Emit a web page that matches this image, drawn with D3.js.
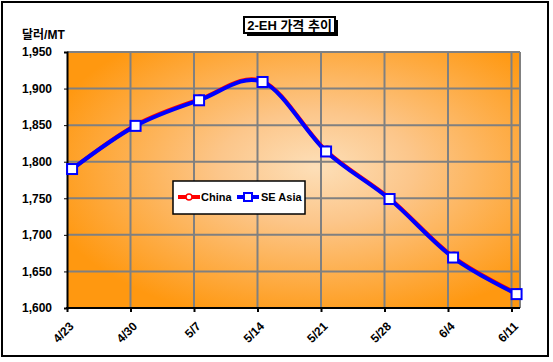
<!DOCTYPE html>
<meta charset="utf-8">
<head>
<style>
body { margin: 0; background: #fff; }
text { font-family: "Liberation Sans", Arial, sans-serif; font-weight: bold; }
.kr { font-family: "Liberation Sans", "Noto Sans CJK KR", sans-serif; }
</style>
</head>
<body>
<svg width="553" height="362"></svg>
<script src="https://cdn.jsdelivr.net/npm/d3@7/dist/d3.min.js"></script>
<script>

var dates = ["4/23", "4/30", "5/7", "5/14", "5/21", "5/28", "6/4", "6/11"];
var china = [1790, 1850, 1885, 1910, 1815, 1750, 1670, 1620];
var seAsia = [1790, 1849, 1884, 1909, 1814, 1749, 1669, 1619];
var yTicks = [1600, 1650, 1700, 1750, 1800, 1850, 1900, 1950];

var svg = d3.select("svg"),
    width = +svg.attr("width"),
    height = +svg.attr("height");

var pLeft = 67, pRight = 520, pTop = 52, pBottom = 308;

// outer frame
svg.append("rect")
  .attr("x", 2).attr("y", 2)
  .attr("width", 546).attr("height", 354)
  .attr("fill", "#fff").attr("stroke", "#000").attr("stroke-width", 2);

var defs = svg.append("defs");
var grad = defs.append("radialGradient")
  .attr("id", "bg")
  .attr("cx", 0.55).attr("cy", 0.45).attr("r", 0.62);
grad.append("stop").attr("offset", "0%").attr("stop-color", "#fddfb8");
grad.append("stop").attr("offset", "35%").attr("stop-color", "#fcc68a");
grad.append("stop").attr("offset", "100%").attr("stop-color", "#ff9810");

var x = d3.scaleLinear().domain([0, 7]).range([pLeft, 511.5]);
var y = d3.scaleLinear().domain([1600, 1950]).range([pBottom, pTop]);
var offset = 0.08; // points sit a bit right of the ticks

svg.append("rect")
  .attr("x", pLeft).attr("y", pTop)
  .attr("width", pRight - pLeft).attr("height", pBottom - pTop)
  .attr("fill", "url(#bg)");

// grid
var grid = svg.append("g").attr("stroke", "#808080").attr("stroke-width", 2);
grid.selectAll(".h").data(yTicks.slice(1))
  .enter().append("line")
  .attr("x1", pLeft).attr("x2", pRight)
  .attr("y1", function(d) { return y(d); })
  .attr("y2", function(d) { return y(d); });
grid.selectAll(".v").data(d3.range(1, 8))
  .enter().append("line")
  .attr("x1", function(d) { return x(d); })
  .attr("x2", function(d) { return x(d); })
  .attr("y1", pTop).attr("y2", pBottom);
grid.append("line").attr("x1", pRight).attr("x2", pRight).attr("y1", pTop).attr("y2", pBottom);

// axes
var yAxis = svg.append("g")
  .attr("transform", "translate(" + pLeft + ",0)")
  .call(d3.axisLeft(y).tickValues(yTicks).tickSize(3).tickPadding(12)
    .tickFormat(d3.format(",")));
yAxis.select(".domain").attr("stroke", "#000").attr("stroke-width", 2);
yAxis.selectAll("text").attr("font-size", 12).attr("fill", "#000");

var xAxis = svg.append("g")
  .attr("transform", "translate(0," + pBottom + ")")
  .call(d3.axisBottom(x).tickValues(d3.range(8)).tickSize(4)
    .tickFormat(function(d) { return dates[d]; }));
xAxis.select(".domain").attr("d", "M" + (pLeft - 1) + ",0H" + pRight).attr("stroke", "#000").attr("stroke-width", 2);
xAxis.selectAll(".tick line").attr("stroke", "#000").attr("stroke-width", 2);
xAxis.selectAll("text")
  .attr("font-size", 12).attr("fill", "#000")
  .attr("text-anchor", "end")
  .attr("dy", null).attr("y", 0)
  .attr("transform", "translate(7,19) rotate(-45)");

svg.append("text").attr("class", "kr")
  .attr("x", 22).attr("y", 39)
  .attr("font-size", 12)
  .text("달러/MT");

// title
svg.append("rect").attr("x", 247).attr("y", 20).attr("width", 91).attr("height", 16).attr("fill", "#000");
svg.append("rect").attr("x", 244).attr("y", 17).attr("width", 91).attr("height", 16)
  .attr("fill", "#fff").attr("stroke", "#000").attr("stroke-width", 2);
svg.append("text").attr("class", "kr")
  .attr("x", 289.5).attr("y", 30).attr("text-anchor", "middle")
  .attr("font-size", 13)
  .text("2-EH 가격 추이");

// series
var line = d3.line()
  .x(function(d, i) { return x(i + offset); })
  .y(function(d) { return y(d); })
  .curve(d3.curveCatmullRom.alpha(0));

svg.append("path").datum(china)
  .attr("d", line).attr("fill", "none").attr("stroke", "#ff0000").attr("stroke-width", 4);
svg.selectAll(".cm").data(china).enter().append("circle")
  .attr("cx", function(d, i) { return x(i + offset) + 1; })
  .attr("cy", function(d) { return y(d) - 1; })
  .attr("r", 3.5).attr("fill", "#fff").attr("stroke", "#ff0000").attr("stroke-width", 1.5);

svg.append("path").datum(seAsia)
  .attr("d", line).attr("fill", "none").attr("stroke", "#0000ff").attr("stroke-width", 4);
svg.selectAll(".sm").data(seAsia).enter().append("rect")
  .attr("x", function(d, i) { return x(i + offset) - 5; })
  .attr("y", function(d) { return y(d) - 5; })
  .attr("width", 10).attr("height", 10)
  .attr("fill", "#fff").attr("stroke", "#0000ff").attr("stroke-width", 2);

// legend
var lg = svg.append("g").attr("transform", "translate(173,181)");
lg.append("rect").attr("width", 132).attr("height", 33)
  .attr("fill", "#fff").attr("stroke", "#000").attr("stroke-width", 1.5);
lg.append("line").attr("x1", 5).attr("x2", 27).attr("y1", 16).attr("y2", 16)
  .attr("stroke", "#ff0000").attr("stroke-width", 4);
lg.append("circle").attr("cx", 16).attr("cy", 16).attr("r", 3)
  .attr("fill", "#fff").attr("stroke", "#ff0000").attr("stroke-width", 1.5);
lg.append("text").attr("x", 28).attr("y", 20).attr("font-size", 11).text("China");
lg.append("line").attr("x1", 64).attr("x2", 86).attr("y1", 16).attr("y2", 16)
  .attr("stroke", "#0000ff").attr("stroke-width", 4);
lg.append("rect").attr("x", 71).attr("y", 12).attr("width", 8).attr("height", 8)
  .attr("fill", "#fff").attr("stroke", "#0000ff").attr("stroke-width", 2);
lg.append("text").attr("x", 88).attr("y", 20).attr("font-size", 11).text("SE Asia");

</script>
</body>
